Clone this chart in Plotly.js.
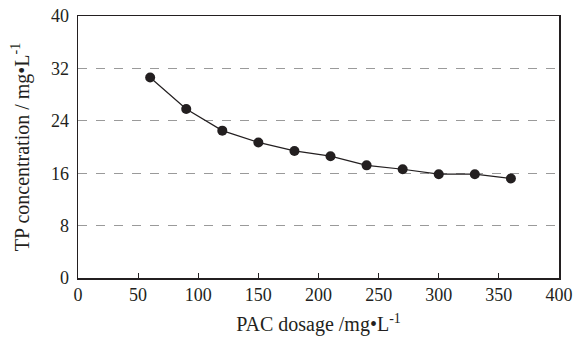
<!DOCTYPE html>
<html>
<head>
<meta charset="utf-8">
<script src="https://cdn.plot.ly/plotly-3.0.1.min.js"></script>
<style>html,body{margin:0;padding:0;background:#fff;}#chart{width:576px;height:340px;}</style>
</head>
<body>
<div id="chart"></div>
<script>
const dosage = [60, 90, 120, 150, 180, 210, 240, 270, 300, 330, 360];
const tpConc = [30.6, 25.8, 22.5, 20.7, 19.4, 18.6, 17.2, 16.6, 15.85, 15.85, 15.2];
const xTicks = [0, 50, 100, 150, 200, 250, 300, 350, 400];
const yTicks = [0, 8, 16, 24, 32, 40];

const fam = '"Liberation Serif", "Times New Roman", serif';
const tickFont = {family: fam, size: 18, color: '#231f20'};
const titleFont = {family: fam, size: 20, color: '#231f20'};

Plotly.newPlot('chart', [{
  x: dosage, y: tpConc, type: 'scatter', mode: 'lines+markers',
  line: {color: '#231f20', width: 1.2},
  marker: {color: '#231f20', size: 10},
  showlegend: false
}], {
  width: 576, height: 340,
  margin: {l: 78, r: 17, t: 16, b: 62},
  paper_bgcolor: '#fff', plot_bgcolor: '#fff',
  font: tickFont,
  xaxis: {
    range: [0, 400], tickvals: xTicks, ticktext: xTicks.map(String),
    showline: true, linecolor: '#231f20', linewidth: 1.5, mirror: true,
    ticks: 'inside', ticklen: 5, tickcolor: '#231f20', tickwidth: 1,
    showgrid: false, zeroline: false,
    tickfont: tickFont,
    title: {text: 'PAC dosage /mg•L<sup>-1</sup>', font: titleFont, standoff: 13}
  },
  yaxis: {
    range: [0, 40], tickvals: yTicks, ticktext: yTicks.map(String),
    showline: true, linecolor: '#231f20', linewidth: 1.5, mirror: true,
    ticks: '', showgrid: true, gridcolor: '#9a9a9a', griddash: 'dash', gridwidth: 1,
    zeroline: false, tickfont: tickFont, ticklabelstandoff: 4,
    title: {text: 'TP concentration / mg•L<sup>-1</sup>', font: titleFont, standoff: 16}
  }
}, {displayModeBar: false, staticPlot: true});
</script>
</body>
</html>
